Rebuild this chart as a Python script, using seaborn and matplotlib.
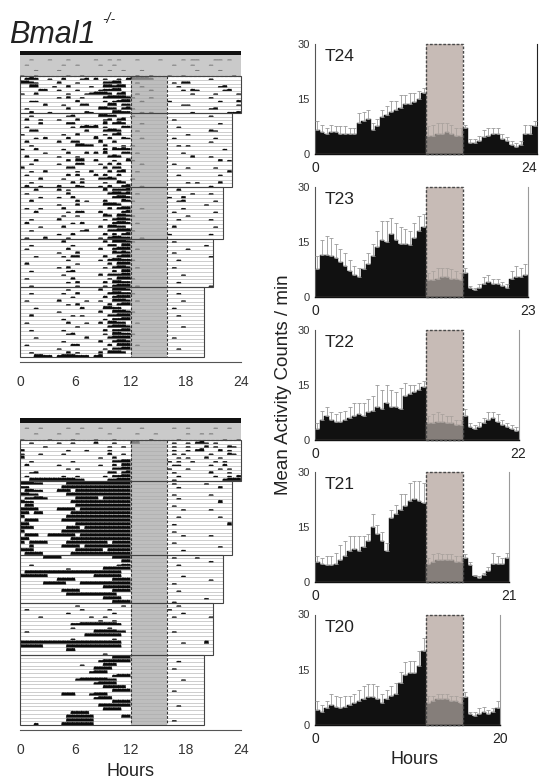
import numpy as np
import pandas as pd
import seaborn as sns
import matplotlib.pyplot as plt
from matplotlib.patches import Rectangle
from matplotlib.collections import PolyCollection

sns.set_style('white')
plt.rcParams['font.family'] = ['Liberation Sans', 'DejaVu Sans']

W, H = 542, 782

# ---------------- right panels: mean activity counts / min, 0.5 h bins ----------------
periods = [24, 23, 22, 21, 20]

act_t24 = [6.5, 6, 5.5, 6, 6, 5.5, 5.5, 5.5, 5.5, 8.5, 9, 9.5, 6.5, 7.5, 10, 10.5, 11.5, 12, 12.5, 13.5, 13.5, 14, 15, 16.5,
           5, 5, 5.5, 5.5, 6, 5.5, 5, 5,
           7, 3, 3, 3.5, 4.5, 5, 5.5, 5.5, 4, 3.5, 2.5, 2, 2.5, 5.5, 5.5, 7.5]
err_t24 = [2.5, 2, 1.5, 2, 1.5, 2, 2, 1.5, 1.5, 2.5, 2.5, 2.5, 2, 2, 2, 2.5, 3, 2.5, 3.5, 2.5, 3, 2.5, 2, 1.5,
           2.5, 3, 3, 3, 2.5, 2.5, 2, 2,
           1, 1, 1, 1.5, 2, 2, 1.5, 1.5, 1.5, 1, 1, 1, 1, 2.5, 2.5, 1.5]

act_t23 = [7.5, 11.5, 11.5, 11, 10.5, 9.5, 8.5, 7, 6, 5.5, 7.5, 9, 11, 13.5, 15.5, 15, 17, 15.5, 14.5, 14.5, 14, 16, 18, 19,
           4.5, 4.5, 5, 5.5, 5.5, 5, 5, 4.5,
           6.5, 2.5, 2, 2.5, 3.5, 4, 3.5, 3.5, 3, 2.5, 5, 5.5, 5.5, 6]
err_t23 = [3.5, 4, 5, 5, 4, 3.5, 3.5, 3, 2.5, 2.5, 2.5, 3, 3.5, 4.5, 5, 5.5, 4.5, 4.5, 4.5, 4, 4, 4, 4, 3.5,
           2, 2.5, 3, 2.5, 2.5, 2.5, 2, 2,
           1.5, 0.5, 0.5, 1, 2, 2, 1.5, 1.5, 1, 1, 2, 3, 2.5, 3]

act_t22 = [3, 5.5, 6.5, 5.5, 5, 5, 5.5, 6, 6.5, 7, 6.5, 7.5, 8, 9, 8.5, 10, 9, 9, 8.5, 12, 12.5, 13, 13.5, 14.5,
           4.5, 4.5, 5, 5, 4.5, 4.5, 4, 4,
           6.5, 3.5, 3, 3.5, 4.5, 5.5, 6, 5, 4, 3.5, 3, 2.5]
err_t22 = [1.5, 2.5, 2.5, 2, 2, 2.5, 2.5, 3, 3.5, 3, 3.5, 3.5, 4, 6, 5, 5, 4.5, 4, 5.5, 3.5, 2.5, 2, 2, 1.5,
           2, 2.5, 2.5, 2, 2, 2, 1.5, 1.5,
           2, 1, 1, 1.5, 1.5, 2, 1.5, 2, 1.5, 1, 1, 1]

act_t21 = [5.5, 5, 4.5, 4.5, 5, 6, 7, 8.5, 9, 8.5, 9.5, 11, 15, 13, 11, 8.5, 17.5, 18.5, 19.5, 20.5, 22, 22.5, 22, 21.5,
           5, 5.5, 6, 6, 6, 6, 5.5, 5.5,
           6.5, 4.5, 1.5, 1, 2, 3, 5, 5, 5, 6.5]
err_t21 = [1.5, 1.5, 2.5, 2.5, 3, 4, 4, 4, 3.5, 4, 3, 2, 3.5, 2.5, 2.5, 2, 2, 2.5, 4.5, 3.5, 5, 5, 5.5, 5.5,
           1.5, 2, 2, 1.5, 1.5, 1.5, 1.5, 1.5,
           1, 1, 0.5, 0.5, 0.5, 1, 3, 2, 1.5, 1.5]

act_t20 = [4, 3.5, 4.5, 5.5, 5, 4.5, 5, 5.5, 6, 6.5, 7, 7.5, 7.5, 7, 6, 7, 8, 8.5, 11.5, 13.5, 14, 14, 16, 20,
           6, 6.5, 7, 7, 7, 6.5, 6.5, 6,
           7.5, 3, 2.5, 3, 3.5, 3, 3.5, 4.5]
err_t20 = [2.5, 2, 2, 3, 3, 3, 3, 2.5, 2.5, 3, 3.5, 3.5, 3.5, 3.5, 2.5, 2.5, 2.5, 3, 3, 3.5, 3.5, 3.5, 4, 3.5,
           2, 1.5, 1.5, 1.5, 1.5, 1.5, 1.5, 1.5,
           1.5, 0.5, 1, 1.5, 1.5, 1, 1, 2]

profiles = [(act_t24, err_t24), (act_t23, err_t23), (act_t22, err_t22), (act_t21, err_t21), (act_t20, err_t20)]
panel_zero_px = [154, 297, 440, 582, 725]   # pixel row of the 0 line of each panel

# ---------------- left actograms: activity per 0.5 h bin, levels 0-3 ----------------
# groups of 4 h separated by |, '.' = no activity
m1_pre = [
    "..1...1.|..1.....|1..1.1..|.1....1.|...1.11.|..11.1..",
    ".1......|.1..1...|.1..1...|........|.1...1..|.1......",
    "...1....|1.......|...1..1.|..1.....|......1.|...1....",
    "1..1....|..1..1..|........|.1..1...|1..1....|......1.",
]
m1_t24 = [
    ".232..1.|.2...12.|2.1..1.2|33332...|........|.1......",
    "3321....|2...1...|..2233..|.1......|.1.22...|........",
    "..33...1|..2....1|..33233.|..1.....|..1.....|...12...",
    "....22..|1...1...|.12233..|....1...|...1.21.|....12..",
    "1..2....|..1...12|3332.23.|.1......|.....1..|..1....1",
    "........|1.2..1..|..233332|1...1...|........|.1......",
    "..11....|....2...|..1.1233|..1.....|1.......|...1...2",
    ".....2..|.1...22.|...33.22|........|...11...|.......1",
    ".1......|..2.....|.3322.23|1.......|........|.12.....",
    "..2...1.|......21|....3322|..1.1...|.....1..|.....112",
]
m1_t23 = [
    "..1.....|..12....|.3322...|1.......|........|.1....",
    ".2..1...|1...2...|..12.23.|........|.1......|......",
    "....2...|..22....|..3.232.|..1.....|........|...1..",
    ".1......|...1.232|3.1...22|........|..1.....|......",
    "..22....|......2.|..2332..|.1......|........|.21...",
    "1.......|.1..2...|..1.23..|........|....1...|......",
    "...1.2..|..2.....|3..2..21|..1.....|.1......|..1...",
    ".2......|2..22...|.3..2...|........|........|.1....",
    "..1.....|....3322|..2...1.|1.......|..1.1...|......",
    "1..2....|.1......|..2.3232|........|........|....1.",
    ".....1..|..2...2.|2.3...22|.1......|...1....|......",
    ".2......|1...1...|...232..|........|.....2..|.1....",
    "...2....|..2.33..|2...1..3|1.......|........|...2.1",
    "..1.....|1...22..|.1.2.2..|..1.....|.1......|......",
    "2.......|..22....|..2.22..|........|....1...|..1...",
    "..1..2..|....1..2|...2.23.|.1......|........|.....2",
    ".1......|..2.2...|2.2..2..|........|..1.....|...1..",
    "....2...|.1...1..|.2232...|1.......|........|......",
    "..1.....|...2.2..|..1..32.|........|....1.1.|...2..",
    ".2..1...|2...21..|.1.2..23|..1.....|........|.1....",
]
m1_t22 = [
    "...2....|2.1.....|..3.2223|........|..2.....|....",
    ".1......|..2.....|...23323|.1......|.....1..|.1..",
    "....1...|1..2....|....2332|........|1..2....|....",
    "..2.....|....2.1.|..2...32|1.......|..12....|..1.",
    "........|1...2...|..3332..|........|........|1...",
    ".1..1...|.2......|...2.233|..1.....|...1....|....",
    "...2....|..1.22..|.2....23|........|.1......|..1.",
    "........|.1..1...|..32.332|1.......|....1...|....",
    "..1.....|2.......|..1.2332|........|..1.....|.1..",
    ".2......|...1.2..|....2332|.1......|........|....",
    "....1...|.2......|.2.3322.|........|.2......|..1.",
    "..1.....|.....12.|...22333|1.......|........|....",
    "........|1..2....|..2.2.23|........|1.......|.1..",
    ".1...2..|..1.....|.1.23322|..1.....|........|....",
]
m1_t21 = [
    "........|.2......|..2.3332|1.......|.1......|..",
    "..1.....|...1....|...22.33|........|........|1.",
    ".1......|..2.....|.2..2333|.1......|....1...|..",
    "........|1...2...|....3232|........|.1......|..",
    "...1....|.1.22...|..2..233|........|........|.1",
    "........|..1.....|.1.23322|1.......|..1.....|..",
    ".2......|....1...|...2.333|........|........|..",
    "........|1.2.....|..1.2332|.1......|.1......|..",
    "..1.....|..12....|....2.33|........|........|..",
    "........|.1......|.2.22233|........|...1....|..",
    ".1......|...2....|...1.333|1.......|........|..",
    "........|..1.2...|..2.3322|........|..1.....|..",
    "..1.....|....1...|..1.2333|.1......|........|.1",
]
m1_t20 = [
    "........|..1.....|.2..3332|........|........",
    "..1.....|.1..2...|...23322|1.......|..1.....",
    "........|...1....|..2.2333|........|........",
    ".1......|2.....1.|.1..3332|.1......|...1....",
    "........|..1.2...|...2.233|........|........",
    "...1....|.....2..|..3322..|........|.1......",
    "........|1.......|.2..3332|1.......|........",
    "..2.....|...1.1..|...22333|........|..1.....",
    "........|.1......|..1.2233|........|........",
    ".1......|..2...1.|.2.3322.|.1......|........",
    "........|....1...|...23332|........|...1....",
    "..1.....|.1......|..2.2233|........|........",
    "........|..12....|..1.3322|1.......|........",
    "...1....|......2.|...23333|........|.1......",
    "........|.1......|.2..2332|........|........",
    ".1......|...22...|...2.333|.1......|........",
    "........|1.......|..1.2233|........|..1.....",
    "..1.....|..2.1...|.2.3332.|........|........",
    "...3322.|2333222.|23......|........|........",
]

m2_pre = [
    ".1..1...|..1..1..|.1...1..|..1.....|.1..1...|..1..1..",
    "...1....|1...1...|...1....|.1...1..|....1..1|.1......",
    "1.....1.|...1....|1...1...|....1...|..1.....|....1..1",
]
m2_t24 = [
    "..1.....|1..1....|2...1...|33......|.1..1.23|1.1.....",
    ".....1..|........|...1..1.|........|.1..1...|2.1..21.",
    "2.......|..1...1.|...1....|........|.1..1.23|...2.1..",
    "1...1...|.1......|...2..1.|........|.1.1....|.1...21.",
    "3.......|........|.1..2...|........|..1.1...|2..1....",
    "..1.....|...1....|....2233|........|1.1..1..|..1.1...",
    ".2......|1.......|.1..2.33|........|.11.....|.1..2...",
    "........|..1.1...|....2233|........|1...1...|...1.1..",
    "..12....|........|...22.23|........|.1......|.2...1..",
    ".1......|.1..1...|..1.2233|........|..1.....|..1..1.2",
    "..333333|333322..|...22333|........|.1......|....2333",
]
m2_t23 = [
    "33322...|..333333|33333333|........|.1......|1.....",
    "22......|.3333333|33333333|........|..1.....|...2..",
    ".3322...|333.3333|33333333|........|........|......",
    "3322....|..333333|33333333|........|.1......|.1....",
    ".22332..|....3333|3.333333|........|..1.....|......",
    "322.....|...33333|33333333|........|........|...3..",
    ".33.....|....3333|33333333|........|.1......|......",
    "3333....|3333.333|33333333|........|...1....|.1....",
    "33.33...|...33333|33333333|........|........|......",
    "3.......|..333333|33333333|........|..1.....|...1..",
    ".333....|.3333333|33333333|........|........|......",
    "33......|....3333|33333333|........|.1......|.....3",
    "333.....|..333.33|33333333|........|........|......",
    "3.......|.3333333|33333333|........|.1......|......",
    ".333..33|3333.333|33333333|........|...1....|.1....",
    "33......|...33333|33333333|........|........|......",
    "3.3333..|..333333|333.3333|........|.1......|......",
    "..3.....|.3333.33|33333333|........|........|...1..",
    "333.....|....3333|33.33333|........|...1....|......",
    ".3333...|...33333|33333333|........|........|......",
]
m2_t22 = [
    ".....333|3.......|....3333|........|.1....1.|....",
    "........|........|......33|........|........|.1..",
    "..1.....|........|.....122|........|..1.....|....",
    "........|..1.....|..333333|........|........|....",
    ".3333333|33333333|333333..|........|........|....",
    "333333..|........|333333..|........|...1....|....",
    "........|3333....|....3333|........|........|.1..",
    ".....333|33...333|33333333|........|.1......|....",
    "........|........|..333333|........|........|....",
    "........|.3333...|....3333|........|..1.....|....",
    "........|..333333|33333...|........|........|....",
    "........|........|..3333..|........|........|1...",
    "........|........|....3333|........|.1......|....",
]
m2_t21 = [
    "........|....1...|......1.|........|..1.....|..",
    ".1......|.....1..|...1....|........|1.......|..",
    "........|..1.....|....1...|........|...1....|..",
    "....1...|.......1|..1.....|........|.1......|.1",
    "........|........|.1..1...|........|........|..",
    "........|...22333|333332..|........|........|..",
    "........|...1....|...1....|........|........|..",
    ".1......|........|3333322.|........|.1......|..",
    "........|......33|333333..|........|........|..",
    "........|...1....|....1...|........|........|..",
    "33333333|33333333|333333..|........|...1....|3.",
    "33333...|..333333|333333..|........|........|..",
    "........|..33....|........|........|........|..",
    "........|........|..1.....|........|........|..",
]
m2_t20 = [
    "........|........|....3333|........|........",
    "........|........|.2333333|........|..1.....",
    "........|.....1..|..333...|........|........",
    "........|........|3333....|........|.1......",
    "........|.......2|333.....|........|........",
    "........|........|....2333|........|........",
    "........|....2333|33322...|........|...1....",
    "........|........|23333...|........|........",
    "........|........|..33333.|........|........",
    "........|........|....3333|........|.1......",
    "........|.333...2|333.....|........|........",
    "........|........|2333....|........|........",
    "........|........|....3333|........|........",
    "........|........|.3333333|........|..1.....",
    "........|........|..3333..|........|........",
    "........|...3333.|........|........|........",
    "........|..333333|......33|........|........",
    "........|..333333|........|........|.1......",
    "...2....|.3333333|........|........|........",
]

actogram_1 = dict(pre=m1_pre, blocks=[m1_t24, m1_t23, m1_t22, m1_t21, m1_t20], top_px=51, bottom_px=357,
                  pre_h=5.7, bar_h=1.1)
actogram_2 = dict(pre=m2_pre, blocks=[m2_t24, m2_t23, m2_t22, m2_t21, m2_t20], top_px=418, bottom_px=725,
                  pre_h=4.6, bar_h=1.35)

level_h = {1: 0.3, 2: 0.55, 3: 0.8}   # fraction of a row


def levels(s, n):
    s = s.replace('|', '')[:n].ljust(n, '.')
    return [int(c) if c.isdigit() else 0 for c in s]


def bouts(lv, base, scale):
    # one filled outline per run of consecutive active bins
    verts = []
    i = 0
    n = len(lv)
    while i < n:
        if lv[i] == 0:
            i += 1
            continue
        j = i
        pts = [(i * 0.5, base)]
        while j < n and lv[j] > 0:
            h = level_h[lv[j]] * scale
            x = j * 0.5
            pts += [(x + 0.04, base - h * 0.85), (x + 0.18, base - h),
                    (x + 0.3, base - h * 0.9), (x + 0.46, base - h * 0.95)]
            j += 1
        pts.append((j * 0.5, base))
        verts.append(pts)
        i = j
    return verts


def draw_actogram(ax, pre, blocks, pre_h, bar_h):
    y = 0
    verts = []
    for T, rows in zip(periods, blocks):
        y0 = y
        for s in rows:
            verts += bouts(levels(s, 2 * T), y + 1, 1.0)
            ax.plot([0, T], [y + 1, y + 1], color='#a8a8a8', lw=0.4, zorder=1)
            y += 1
        ax.add_patch(Rectangle((0, y0), T, y - y0, fill=False, ec='#444444', lw=0.8,
                               zorder=5, clip_on=False))
    ax.add_collection(PolyCollection(verts, facecolors='#0a0a0a', edgecolors='#0a0a0a',
                                     linewidths=0.2, zorder=2))
    n_rows = y
    # dark-pulse band 12-16 h
    ax.add_patch(Rectangle((12, 0), 4, n_rows, fc='#a9a9a9', ec='none', alpha=0.75, zorder=3))
    for xv in (12, 16):
        ax.plot([xv, xv], [0, n_rows], color='#333333', lw=0.8, ls=(0, (2.5, 1.5)), zorder=4)
    # pre-period shading on top
    ax.add_patch(Rectangle((0, -pre_h), 24, pre_h, fc='#cacaca', ec='none', zorder=0))
    rh = pre_h / len(pre)
    pre_verts = []
    for i, s in enumerate(pre):
        pre_verts += bouts(levels(s, 48), -pre_h + (i + 1) * rh, rh * 0.6)
    ax.add_collection(PolyCollection(pre_verts, facecolors='#707070', edgecolors='none', zorder=1))
    ax.plot([0, 24], [0, 0], color='#333333', lw=0.8, ls=(0, (2.5, 1.5)), zorder=4)
    ax.add_patch(Rectangle((0, -pre_h - bar_h), 24, bar_h, fc='#111111', ec='none', zorder=5))

    ax.set_xlim(0, 24)
    ax.set_ylim(n_rows, -pre_h - bar_h)
    for side in ('top', 'left', 'right'):
        ax.spines[side].set_visible(False)
    ax.spines['bottom'].set_position(('outward', 3.6))
    ax.spines['bottom'].set_color('#555555')
    ax.spines['bottom'].set_linewidth(0.8)
    ax.set_xticks([0, 6, 12, 18, 24])
    ax.tick_params(axis='x', direction='inout', length=4, width=0.8, color='#555555',
                   labelsize=10, labelcolor='#333333', pad=7)
    ax.set_yticks([])


fig = plt.figure(figsize=(W / 100, H / 100), dpi=100)

for a in (actogram_1, actogram_2):
    ax = fig.add_axes([20 / W, 1 - a['bottom_px'] / H, 221 / W, (a['bottom_px'] - a['top_px']) / H])
    draw_actogram(ax, a['pre'], a['blocks'], a['pre_h'], a['bar_h'])

fig.text(130 / W, 1 - 771 / H, 'Hours', ha='center', va='center', fontsize=13, color='#222222')
fig.text(9 / W, 1 - 43 / H, 'Bmal1', fontsize=22, style='italic', color='#222222', va='baseline')
fig.text(102 / W, 1 - 12 / H, '-/-', fontsize=10, style='italic', color='#222222', va='top')

# ---------------- right profiles ----------------
px_per_h = 9.25
for T, (act, err), zero_px in zip(periods, profiles, panel_zero_px):
    ax = fig.add_axes([315 / W, 1 - zero_px / H, T * px_per_h / W, 110.5 / H])
    edges = list(np.arange(0, T + 0.25, 0.5))
    centers = np.array(edges[:-1]) + 0.25
    df = pd.DataFrame({'t': centers, 'v': np.array(act, dtype=float), 'e': np.array(err, dtype=float)})
    df['dark'] = (df.t > 12) & (df.t < 16)
    light_df = df[~df.dark]
    dark_df = df[df.dark]

    ax.add_patch(Rectangle((12, 0), 4, 30, fc='#c7bbb6', ec='none', zorder=0))
    sns.histplot(data=light_df, x='t', weights='v', bins=edges, color='#111111', alpha=1,
                 edgecolor='#111111', linewidth=0.3, ax=ax, zorder=2)
    sns.histplot(data=dark_df, x='t', weights='v', bins=edges, color='#857e7a', alpha=1,
                 edgecolor='#857e7a', linewidth=0.3, ax=ax, zorder=2)
    ax.errorbar(light_df.t, light_df.v, yerr=[np.zeros(len(light_df)), light_df.e], fmt='none',
                ecolor='#9a9a9a', elinewidth=0.6, capsize=1.3, capthick=0.6, zorder=3)
    ax.errorbar(dark_df.t, dark_df.v, yerr=[np.zeros(len(dark_df)), dark_df.e], fmt='none',
                ecolor='#aaa29e', elinewidth=0.6, capsize=1.3, capthick=0.6, zorder=3)
    ax.add_patch(Rectangle((12, 0), 4, 30, fill=False, ec='#4a4a4a', lw=1.0, ls=(0, (2, 1.2)),
                           zorder=5, clip_on=False))

    ax.set_xlim(0, T)
    ax.set_ylim(0, 30)
    ax.set_xlabel('')
    ax.set_ylabel('')
    ax.spines['top'].set_visible(False)
    ax.spines['right'].set_color('#222222' if T == 24 else '#9a9a9a')
    ax.spines['right'].set_linewidth(0.8)
    ax.spines['left'].set_color('#555555')
    ax.spines['left'].set_linewidth(0.8)
    ax.spines['bottom'].set_color('#111111')
    ax.spines['bottom'].set_linewidth(1.0)
    ax.set_xticks([0, T])
    ax.set_yticks([0, 15, 30])
    ax.tick_params(axis='x', direction='out', length=3, width=0.8, labelsize=10,
                   labelcolor='#222222', pad=2)
    ax.tick_params(axis='y', direction='out', length=3, width=0.8, labelsize=8,
                   labelcolor='#333333', pad=1)
    if T == 24:
        ax.get_xticklabels()[-1].set_horizontalalignment('right')
    ax.text(1.0, 26.5, f'T{T}', fontsize=12.5, va='center', ha='left', color='#222222')

fig.text(283 / W, 1 - 385 / H, 'Mean Activity Counts / min', rotation=90, ha='center', va='center',
         fontsize=13.5, color='#222222')
fig.text(415 / W, 1 - 760 / H, 'Hours', ha='center', va='center', fontsize=13, color='#222222')

fig.savefig('out.png', dpi=100)
